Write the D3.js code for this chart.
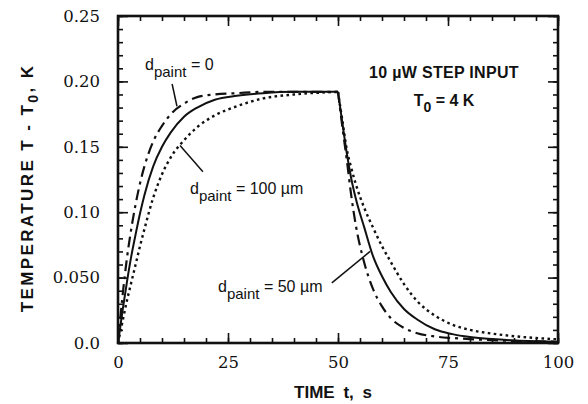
<!DOCTYPE html>
<html>
<head>
<meta charset="utf-8">
<script src="https://cdn.jsdelivr.net/npm/d3@7/dist/d3.min.js"></script>
<style>
  html, body { margin: 0; padding: 0; background: #ffffff; }
  svg { display: block; }
</style>
</head>
<body>
<svg id="chart" width="588" height="404"></svg>
<script>
// ---- data ----
const timeValues = [0,1,2,3,4,5,6,8,10,12,15,18,22,27,33,40,50,
                    51,52,53,54,56,58,60,62,65,68,72,76,80,85,90,95,100];
// d_paint = 0 (dash-dot)
const paint0 = [0,0.035,0.064,0.087,0.106,0.122,0.135,0.154,0.166,0.175,0.183,0.188,0.190,0.191,0.192,0.192,0.192,
                0.165,0.140,0.113,0.091,0.061,0.041,0.028,0.019,0.0115,0.0075,0.0050,0.0038,0.0030,0.0022,0.0016,0.0012,0.0010];
// d_paint = 50 um (solid)
const paint50 = [0,0.024,0.046,0.066,0.083,0.099,0.113,0.135,0.150,0.161,0.173,0.180,0.186,0.189,0.191,0.192,0.192,
                 0.168,0.145,0.126,0.111,0.088,0.066,0.051,0.039,0.026,0.018,0.0105,0.0068,0.0046,0.0030,0.0020,0.0014,0.0010];
// d_paint = 100 um (dotted)
const paint100 = [0,0.016,0.032,0.046,0.060,0.074,0.087,0.111,0.129,0.142,0.155,0.165,0.174,0.181,0.187,0.190,0.192,
                  0.170,0.148,0.134,0.122,0.103,0.088,0.074,0.062,0.045,0.032,0.021,0.0140,0.0100,0.0072,0.0052,0.0038,0.0028];
const stepOffTime = 50;

const xTicks = [0,25,50,75,100];
const xTickLabels = ["0","25","50","75","100"];
const yTicks = [0,0.05,0.10,0.15,0.20,0.25];
const yTickLabels = ["0.0","0.050","0.10","0.15","0.20","0.25"];
const xMinorTicks = d3.range(0,101,5);
const yMinorTicks = d3.range(0,26,1).map(d=>d/100);

// ---- layout ----
const svg = d3.select("#chart");
const L = 118, R = 558, T = 16, B = 343;
const x = d3.scaleLinear().domain([0,100]).range([L,R]);
const y = d3.scaleLinear().domain([0,0.25]).range([B,T]);

const tickFont = "'DejaVu Serif', 'Liberation Serif', serif";
const sansFont = "'Liberation Sans', Arial, Helvetica, sans-serif";

function styleAxis(g) {
  g.select(".domain").remove();
  g.selectAll("line").attr("stroke","#111").attr("stroke-width",1.6);
}
// minor ticks (inward, all four sides)
svg.append("g").attr("transform",`translate(0,${B})`)
  .call(d3.axisBottom(x).tickValues(xMinorTicks).tickSize(-5).tickFormat(""))
  .call(styleAxis);
svg.append("g").attr("transform",`translate(0,${T})`)
  .call(d3.axisTop(x).tickValues(xMinorTicks).tickSize(-5).tickFormat(""))
  .call(styleAxis);
svg.append("g").attr("transform",`translate(${L},0)`)
  .call(d3.axisLeft(y).tickValues(yMinorTicks).tickSize(-5).tickFormat(""))
  .call(styleAxis);
svg.append("g").attr("transform",`translate(${R},0)`)
  .call(d3.axisRight(y).tickValues(yMinorTicks).tickSize(-5).tickFormat(""))
  .call(styleAxis);
// major ticks
const xb = svg.append("g").attr("transform",`translate(0,${B})`)
  .call(d3.axisBottom(x).tickValues(xTicks).tickSize(-10).tickPadding(13)
        .tickFormat((d,i)=>xTickLabels[i]))
  .call(styleAxis);
svg.append("g").attr("transform",`translate(0,${T})`)
  .call(d3.axisTop(x).tickValues(xTicks).tickSize(-10).tickFormat(""))
  .call(styleAxis);
const yl = svg.append("g").attr("transform",`translate(${L},0)`)
  .call(d3.axisLeft(y).tickValues(yTicks).tickSize(-10).tickPadding(18)
        .tickFormat((d,i)=>yTickLabels[i]))
  .call(styleAxis);
svg.append("g").attr("transform",`translate(${R},0)`)
  .call(d3.axisRight(y).tickValues(yTicks).tickSize(-10).tickFormat(""))
  .call(styleAxis);
[xb, yl].forEach(g => g.selectAll("text")
  .attr("font-family", tickFont).attr("font-size", 16.5).attr("fill","#111"));

// frame
svg.append("rect").attr("x",L).attr("y",T).attr("width",R-L).attr("height",B-T)
  .attr("fill","none").attr("stroke","#111").attr("stroke-width",2.6);

// ---- curves ----
const line = d3.line().x(d=>x(d.t)).y(d=>y(d.v)).curve(d3.curveMonotoneX);
function pathFor(vals) {
  const pts = timeValues.map((t,i)=>({t, v: vals[i]}));
  const rise = pts.filter(p=>p.t<=stepOffTime);
  const fall = pts.filter(p=>p.t>=stepOffTime);
  return line(rise) + line(fall);
}
const series = [
  {vals: paint100, dash: "2.6,3.4", width: 2.4},
  {vals: paint50,  dash: null,      width: 2.0},
  {vals: paint0,   dash: "11,5,3,5", width: 2.2},
];
series.forEach(s => {
  svg.append("path").attr("d", pathFor(s.vals))
    .attr("fill","none").attr("stroke","#111")
    .attr("stroke-width", s.width)
    .attr("stroke-dasharray", s.dash)
    .attr("stroke-linejoin","round");
});

// ---- leader lines ----
const leaders = [
  [[12.3,0.198],[13.4,0.181]],
  [[14.1,0.151],[19.3,0.131]],
  [[48.6,0.046],[57.3,0.070]],
];
leaders.forEach(([a,b]) => {
  svg.append("line").attr("x1",x(a[0])).attr("y1",y(a[1]))
    .attr("x2",x(b[0])).attr("y2",y(b[1]))
    .attr("stroke","#111").attr("stroke-width",1.5);
});

// ---- annotations ----
function dpaint(px, py, rest) {
  const t = svg.append("text").attr("x",px).attr("y",py)
    .attr("font-family",sansFont).attr("font-size",16).attr("fill","#111");
  t.append("tspan").text("d");
  t.append("tspan").attr("dy",7).attr("font-size",15).text("paint");
  t.append("tspan").attr("dy",-7).text(rest);
}
dpaint(145, 70, " = 0");
dpaint(190, 194, " = 100 µm");
dpaint(218, 292, " = 50 µm");

svg.append("text").attr("x",444).attr("y",78).attr("text-anchor","middle")
  .attr("font-family",sansFont).attr("font-size",16).attr("font-weight","bold")
  .attr("fill","#111").attr("letter-spacing","0.3px").text("10 µW STEP INPUT");
const t0 = svg.append("text").attr("x",444).attr("y",106).attr("text-anchor","middle")
  .attr("font-family",sansFont).attr("font-size",16).attr("font-weight","bold").attr("fill","#111");
t0.append("tspan").text("T");
t0.append("tspan").attr("dy",6).attr("font-size",14).text("0");
t0.append("tspan").attr("dy",-6).text(" = 4 K");

// axis titles
svg.append("text").attr("x",333).attr("y",398).attr("text-anchor","middle")
  .attr("font-family",sansFont).attr("font-size",17).attr("font-weight","bold")
  .attr("fill","#111").attr("word-spacing","4px").text("TIME t, s");

const yt = svg.append("text").attr("transform","translate(33,188) rotate(-90)")
  .attr("text-anchor","middle")
  .attr("font-family",sansFont).attr("font-size",17).attr("font-weight","bold")
  .attr("fill","#111").attr("letter-spacing","2.4px");
yt.append("tspan").text("TEMPERATURE T - T");
yt.append("tspan").attr("dy",5).attr("font-size",14).text("0");
yt.append("tspan").attr("dy",-5).text(", K");
</script>
</body>
</html>
